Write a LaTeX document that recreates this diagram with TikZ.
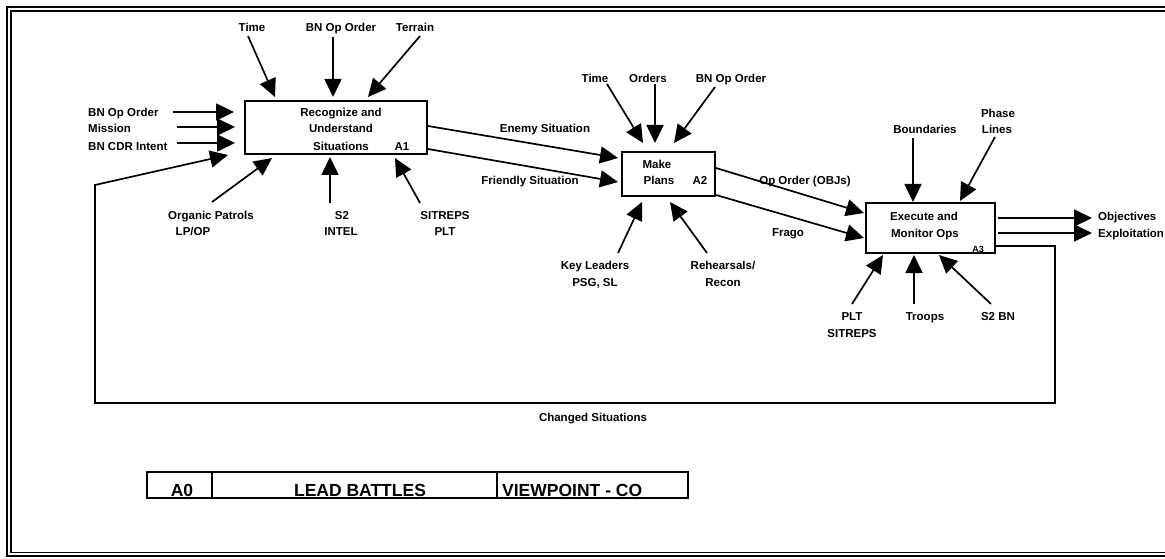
\documentclass[tikz,border=0pt]{standalone}
\usepackage{fontspec}
\setmainfont{Liberation Sans}
\usetikzlibrary{arrows.meta}
\begin{document}
\begin{tikzpicture}[x=1pt,y=-1pt,
  arr/.style={line width=1.7pt,-{Triangle[length=18pt,width=17pt]}},
  box/.style={draw,line width=2pt,rectangle,inner sep=0pt,outer sep=0pt},
  lbl/.style={font=\fontsize{11.5}{14}\selectfont\bfseries,inner sep=0pt,anchor=base},
  lbll/.style={lbl,anchor=base west},
  small/.style={font=\fontsize{9}{10}\selectfont\bfseries,inner sep=0pt,anchor=base},
  big/.style={font=\fontsize{17.5}{20}\selectfont\bfseries,inner sep=0pt,anchor=base},
  frameline/.style={line width=1.8pt}]
\useasboundingbox (0,0) rectangle (1165,559);

% outer frame (double line, right side outside the picture)
\draw[frameline] (1165,7) -- (7,7) -- (7,556) -- (1165,556);
\draw[line width=1.2pt] (1165,11) -- (11,11) -- (11,552.5) -- (1165,552.5);

% ---------- boxes ----------
\node[box,minimum width=182pt,minimum height=53pt] (a1) at (336,127.5) {};
\node[box,minimum width=93pt,minimum height=44pt] (a2) at (668.5,174) {};
\node[box,minimum width=129pt,minimum height=50pt] (a3) at (930.5,228) {};

% box texts
\node[lbl] (a1t1) at (341,117) {Recognize and};
\node[lbl] (a1t2) at (341,133) {Understand};
\node[lbl] (a1t3) at (341,150) {Situations};
\node[lbl] (a1id) at (402,150) {A1};

\node[lbl] (a2t1) at (657,168) {Make};
\node[lbl] (a2t2) at (659,185) {Plans};
\node[lbl] (a2id) at (700,185) {A2};

\node[lbl] (a3t1) at (924,220) {Execute and};
\node[lbl] (a3t2) at (925,237) {Monitor Ops};
\node[small] (a3id) at (978,252) {A3};

% ---------- A1 inputs ----------
\node[lbll] (in1) at (88,117) {BN Op Order};
\node[lbll] (in2) at (88,133) {Mission};
\node[lbll] (in3) at (88,150) {BN CDR Intent};
\coordinate (in1s) at (173,112); \coordinate (in1e) at (234,112);
\coordinate (in2s) at (177,127); \coordinate (in2e) at (235,127);
\coordinate (in3s) at (177,143); \coordinate (in3e) at (235,143);
\draw[arr] (in1s) -- (in1e);
\draw[arr] (in2s) -- (in2e);
\draw[arr] (in3s) -- (in3e);

% A1 controls
\node[lbl] (c11) at (252,32) {Time};
\node[lbl] (c12) at (341,32) {BN Op Order};
\node[lbl] (c13) at (415,32) {Terrain};
\coordinate (c11s) at (248,36); \coordinate (c11e) at (275,97);
\coordinate (c12s) at (333,37); \coordinate (c12e) at (333,97);
\coordinate (c13s) at (420,36); \coordinate (c13e) at (368,97);
\draw[arr] (c11s) -- (c11e);
\draw[arr] (c12s) -- (c12e);
\draw[arr] (c13s) -- (c13e);

% A1 mechanisms
\node[lbl] (m11a) at (211,219) {Organic Patrols};
\node[lbl] (m11b) at (193,235) {LP/OP};
\node[lbl] (m12a) at (342,219) {S2};
\node[lbl] (m12b) at (341,235) {INTEL};
\node[lbl] (m13a) at (445,219) {SITREPS};
\node[lbl] (m13b) at (445,235) {PLT};
\coordinate (m11s) at (212,202); \coordinate (m11e) at (272,158);
\coordinate (m12s) at (330,203); \coordinate (m12e) at (330,157);
\coordinate (m13s) at (420,203); \coordinate (m13e) at (395,158);
\draw[arr] (m11s) -- (m11e);
\draw[arr] (m12s) -- (m12e);
\draw[arr] (m13s) -- (m13e);

% ---------- A1 -> A2 ----------
\coordinate (en1) at (428,126); \coordinate (en2) at (618,158);
\coordinate (fr1) at (428,149); \coordinate (fr2) at (618,182);
\draw[arr] (en1) -- (en2);
\draw[arr] (fr1) -- (fr2);
\node[lbl] (enl) at (545,133) {Enemy Situation};
\node[lbl] (frl) at (530,185) {Friendly Situation};

% A2 controls
\node[lbl] (c21) at (595,83) {Time};
\node[lbl] (c22) at (648,83) {Orders};
\node[lbl] (c23) at (731,83) {BN Op Order};
\coordinate (c21s) at (607,84); \coordinate (c21e) at (643,143);
\coordinate (c22s) at (655,84); \coordinate (c22e) at (655,143);
\coordinate (c23s) at (715,87); \coordinate (c23e) at (674,143);
\draw[arr] (c21s) -- (c21e);
\draw[arr] (c22s) -- (c22e);
\draw[arr] (c23s) -- (c23e);

% A2 mechanisms
\node[lbl] (m21a) at (595,269) {Key Leaders};
\node[lbl] (m21b) at (595,286) {PSG, SL};
\node[lbl] (m22a) at (723,269) {Rehearsals/};
\node[lbl] (m22b) at (723,286) {Recon};
\coordinate (m21s) at (618,253); \coordinate (m21e) at (642,202);
\coordinate (m22s) at (707,253); \coordinate (m22e) at (670,202);
\draw[arr] (m21s) -- (m21e);
\draw[arr] (m22s) -- (m22e);

% ---------- A2 -> A3 ----------
\coordinate (op1) at (716,168); \coordinate (op2) at (864,213);
\coordinate (fg1) at (716,195); \coordinate (fg2) at (864,238);
\draw[arr] (op1) -- (op2);
\draw[arr] (fg1) -- (fg2);
\node[lbl] (opl) at (805,185) {Op Order (OBJs)};
\node[lbl] (fgl) at (788,236) {Frago};

% A3 controls
\node[lbl] (c31) at (925,134) {Boundaries};
\node[lbl] (c32a) at (998,118) {Phase};
\node[lbl] (c32b) at (997,134) {Lines};
\coordinate (c31s) at (913,138); \coordinate (c31e) at (913,202);
\coordinate (c32s) at (995,137); \coordinate (c32e) at (960,201);
\draw[arr] (c31s) -- (c31e);
\draw[arr] (c32s) -- (c32e);

% A3 mechanisms
\node[lbl] (m31a) at (852,320) {PLT};
\node[lbl] (m31b) at (852,337) {SITREPS};
\node[lbl] (m32) at (925,320) {Troops};
\node[lbl] (m33) at (998,320) {S2 BN};
\coordinate (m31s) at (852,304); \coordinate (m31e) at (883,255);
\coordinate (m32s) at (914,304); \coordinate (m32e) at (914,255);
\coordinate (m33s) at (991,304); \coordinate (m33e) at (939,255);
\draw[arr] (m31s) -- (m31e);
\draw[arr] (m32s) -- (m32e);
\draw[arr] (m33s) -- (m33e);

% A3 outputs
\coordinate (o1s) at (998,218); \coordinate (o1e) at (1092,218);
\coordinate (o2s) at (998,233); \coordinate (o2e) at (1092,233);
\draw[arr] (o1s) -- (o1e);
\draw[arr] (o2s) -- (o2e);
\node[lbll] (o1l) at (1098,220) {Objectives};
\node[lbll] (o2l) at (1098,237) {Exploitation};

% ---------- feedback loop ----------
\coordinate (fb0) at (a3.east |- 0,246);
\coordinate (fb1) at (1055,246);
\coordinate (fb2) at (1055,403);
\coordinate (fb3) at (95,403);
\coordinate (fb4) at (95,185);
\coordinate (fb5) at (228,155);
\draw[arr] (fb0) -- (fb1) -- (fb2) -- (fb3) -- (fb4) -- (fb5);
\node[lbl] (fbl) at (593,421) {Changed Situations};

% ---------- title block ----------
\node[box,minimum width=65pt,minimum height=26pt] (tb0) at (179.5,485) {};
\node[box,minimum width=285pt,minimum height=26pt] (tb1) at (354.5,485) {};
\node[box,minimum width=191pt,minimum height=26pt] (tb2) at (592.5,485) {};
\node[big] (tb0t) at (182,496) {A0};
\node[big] (tb1t) at (360,496) {LEAD BATTLES};
\node[big,anchor=base west] (tb2t) at (502,496) {VIEWPOINT - CO};
\end{tikzpicture}
\end{document}
